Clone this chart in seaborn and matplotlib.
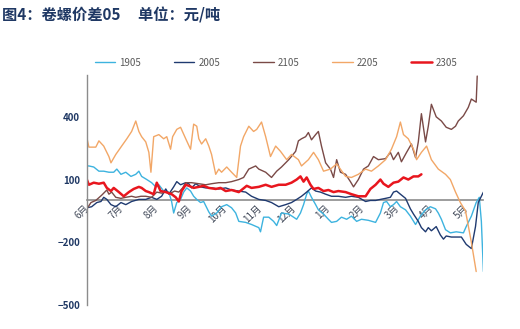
import matplotlib
matplotlib.use("Agg")
import matplotlib.pyplot as plt
import matplotlib.transforms as mtransforms
from matplotlib.lines import Line2D
import seaborn as sns
import pandas as pd

# x = months elapsed since the start of June (contract year runs June -> May)
month_labels = ["6月", "7月", "8月", "9月", "10月", "11月", "12月", "1月", "2月", "3月", "4月", "5月"]

t_1905 = [0, 0.06, 0.20, 0.35, 0.49, 0.64, 0.78, 0.87, 0.99, 1.13, 1.28, 1.42, 1.51, 1.59, 1.74, 1.88,
          2.0, 2.09, 2.23, 2.38, 2.46, 2.52, 2.61, 2.72, 2.81, 2.90, 3.01, 3.10, 3.19, 3.30, 3.39, 3.54,
          3.62, 3.77, 3.91, 4.06, 4.20, 4.32, 4.41, 4.61, 4.78, 4.99, 5.04, 5.13, 5.28, 5.42, 5.51, 5.65,
          5.86, 6.0, 6.09, 6.20, 6.29, 6.38, 6.43, 6.52, 6.64, 6.72, 6.87, 7.01, 7.10, 7.25, 7.39, 7.54,
          7.68, 7.83, 7.97, 8.17, 8.38, 8.52, 8.61, 8.70, 8.81, 8.90, 8.99, 9.10, 9.25, 9.39, 9.54, 9.68,
          9.83, 9.97, 10.12, 10.20, 10.29, 10.41, 10.55, 10.72, 10.93, 11.01, 11.16, 11.30, 11.39, 11.45, 11.51]
v_1905 = [165, 165, 160, 140, 140, 135, 135, 150, 125, 135, 115, 125, 140, 115, 100, 85,
          65, 75, 45, 40, -5, -60, -10, 5, 40, 60, 45, 20, 5, -10, -5, -55,
          -75, -60, -30, -20, -35, -60, -100, -105, -115, -130, -150, -80, -80, -100, -120, -60,
          -65, -80, -90, -60, -20, 30, 45, 15, -20, -45, -65, -90, -105, -100, -80, -90,
          -75, -100, -90, -95, -105, -60, -10, -5, -30, -20, -5, -30, -45, -75, -115, -75,
          -45, -30, -40, -60, -90, -140, -155, -150, -155, -125, -75, -10, 15, -100, -340]

t_2005 = [0, 0.14, 0.29, 0.41, 0.49, 0.58, 0.70, 0.84, 0.99, 1.13, 1.30, 1.51, 1.71, 1.88, 2.03, 2.17,
          2.29, 2.38, 2.52, 2.61, 2.72, 2.87, 2.96, 3.04, 3.16, 3.30, 3.45, 3.62, 3.83, 4.03, 4.20, 4.41,
          4.61, 4.78, 4.99, 5.19, 5.36, 5.57, 5.77, 5.94, 6.09, 6.23, 6.38, 6.52, 6.64, 6.78, 6.93, 7.10,
          7.30, 7.51, 7.68, 7.88, 8.09, 8.23, 8.38, 8.52, 8.67, 8.81, 8.90, 8.99, 9.10, 9.25, 9.39, 9.48,
          9.62, 9.71, 9.83, 9.91, 10.0, 10.14, 10.26, 10.35, 10.43, 10.58, 10.72, 10.87, 11.01, 11.16,
          11.28, 11.36, 11.45, 11.51]
v_2005 = [-35, -30, -10, -5, 15, 5, -20, -30, -10, -20, -5, 5, 5, 15, 5, 20,
          55, 30, 65, 90, 75, 85, 80, 60, 80, 65, 60, 60, 55, 60, 50, 45,
          40, 20, 5, 0, -10, -30, -20, -10, 5, 20, 40, 60, 45, 40, 30, 20,
          20, 15, 20, 15, -5, 0, 0, 5, 10, 15, 40, 45, 30, 10, -40, -65,
          -100, -130, -150, -130, -145, -125, -165, -185, -170, -175, -175, -175, -210, -230,
          -125, -10, 20, 40]

t_2105 = [0, 0.12, 0.26, 0.43, 0.58, 0.64, 0.72, 0.84, 0.99, 1.13, 1.30, 1.42, 1.57, 1.71, 1.88, 2.03,
          2.17, 2.29, 2.43, 2.55, 2.67, 2.78, 2.87, 3.04, 3.25, 3.45, 3.62, 3.83, 4.03, 4.20, 4.41, 4.55,
          4.70, 4.90, 4.99, 5.19, 5.36, 5.51, 5.65, 5.86, 6.06, 6.14, 6.23, 6.35, 6.43, 6.52, 6.64, 6.72,
          6.81, 6.93, 7.07, 7.16, 7.25, 7.36, 7.51, 7.65, 7.74, 7.88, 8.03, 8.17, 8.32, 8.46, 8.67, 8.81,
          8.90, 9.04, 9.13, 9.28, 9.42, 9.54, 9.62, 9.71, 9.83, 9.91, 10.0, 10.14, 10.29, 10.43, 10.58,
          10.70, 10.78, 10.93, 11.07, 11.16, 11.30, 11.33]
v_2105 = [-40, -10, 0, 25, 50, 30, 40, 15, 10, 15, 20, 15, 20, 20, 15, 40,
          35, 40, 35, 45, 40, 60, 85, 85, 80, 75, 80, 85, 85, 90, 100, 110,
          150, 165, 150, 135, 110, 140, 160, 195, 235, 285, 295, 305, 325, 290, 315, 330,
          260, 180, 150, 110, 195, 135, 125, 90, 65, 100, 150, 165, 210, 195, 200, 230,
          195, 230, 185, 230, 270, 205, 280, 415, 280, 355, 460, 400, 380, 350, 340,
          355, 380, 405, 445, 485, 470, 595]

t_2205 = [0, 0.06, 0.26, 0.35, 0.49, 0.64, 0.70, 0.84, 1.01, 1.16, 1.30, 1.42, 1.51, 1.59, 1.71, 1.80,
          1.86, 1.94, 2.09, 2.23, 2.32, 2.43, 2.49, 2.61, 2.72, 2.87, 3.01, 3.10, 3.19, 3.25, 3.33, 3.45,
          3.54, 3.62, 3.74, 3.83, 3.91, 4.06, 4.20, 4.35, 4.46, 4.55, 4.70, 4.84, 4.93, 5.07, 5.19, 5.33,
          5.48, 5.62, 5.80, 5.94, 6.14, 6.23, 6.43, 6.58, 6.72, 6.87, 7.07, 7.25, 7.51, 7.68, 7.88, 8.09,
          8.26, 8.46, 8.67, 8.84, 8.99, 9.10, 9.19, 9.33, 9.48, 9.57, 9.71, 9.86, 10.0, 10.20, 10.41,
          10.55, 10.70, 10.84, 10.99, 11.16, 11.30]
v_2205 = [300, 255, 255, 285, 260, 210, 180, 220, 260, 295, 330, 380, 330, 305, 280, 230,
          135, 305, 315, 295, 305, 245, 305, 340, 350, 295, 245, 365, 355, 295, 270, 295,
          260, 220, 125, 150, 135, 160, 135, 110, 260, 305, 355, 330, 340, 375, 305, 210,
          260, 235, 195, 220, 195, 165, 195, 230, 195, 140, 150, 175, 115, 110, 125, 150,
          140, 165, 195, 245, 305, 375, 315, 295, 245, 195, 230, 260, 195, 150, 125,
          100, 40, -10, -50, -200, -340]

t_2305 = [0, 0.06, 0.20, 0.35, 0.49, 0.58, 0.70, 0.78, 0.93, 1.07, 1.22, 1.36, 1.51, 1.59, 1.71, 1.80,
          1.94, 2.03, 2.14, 2.29, 2.46, 2.58, 2.67, 2.75, 2.87, 2.96, 3.10, 3.25, 3.39, 3.54, 3.74, 3.88,
          4.03, 4.20, 4.41, 4.49, 4.64, 4.78, 4.99, 5.19, 5.36, 5.57, 5.77, 5.94, 6.09, 6.20, 6.29, 6.38,
          6.49, 6.58, 6.72, 6.87, 7.01, 7.16, 7.30, 7.51, 7.68, 7.88, 8.09, 8.23, 8.38, 8.52, 8.61, 8.75,
          8.90, 9.04, 9.19, 9.33, 9.48, 9.62, 9.71]
v_2305 = [100, 75, 85, 80, 85, 60, 45, 60, 40, 20, 40, 55, 65, 60, 45, 40,
          30, 85, 45, 40, 30, 15, -5, 45, 75, 70, 60, 65, 70, 60, 55, 60,
          45, 50, 40, 50, 70, 60, 65, 75, 65, 75, 75, 85, 100, 115, 90, 110,
          75, 55, 60, 45, 50, 40, 45, 40, 30, 20, 20, 55, 75, 100, 80, 65,
          85, 90, 110, 100, 115, 115, 125]

series_names = ["1905", "2005", "2105", "2205", "2305"]
series_t = [t_1905, t_2005, t_2105, t_2205, t_2305]
series_v = [v_1905, v_2005, v_2105, v_2205, v_2305]
colors = ["#3DB3DF", "#1F3A70", "#7A4A47", "#F2A767", "#E8161E"]
widths = [1.0, 1.0, 1.0, 1.0, 1.8]

sns.set_style("white")
plt.rcParams["font.family"] = ["Noto Sans CJK SC", "DejaVu Sans"]

fig = plt.figure(figsize=(5.2, 3.29), dpi=100)
ax = fig.add_axes([0.167, 0.073, 0.762, 0.699])

for name, t, v, c, w in zip(series_names, series_t, series_v, colors, widths):
    df = pd.DataFrame({"month": t, "value": v})
    sns.lineplot(data=df, x="month", y="value", ax=ax, color=c, linewidth=w,
                 sort=False, estimator=None, legend=False)

ax.set_xlim(0, 11.5)
ax.set_ylim(-500, 600)
ax.set_xlabel("")
ax.set_ylabel("")

for side in ["top", "right"]:
    ax.spines[side].set_visible(False)
ax.spines["bottom"].set_position(("data", 0))
ax.spines["bottom"].set_color("#8C8C8C")
ax.spines["bottom"].set_linewidth(1.2)
ax.spines["bottom"].set_zorder(1)
ax.spines["left"].set_color("#8C8C8C")
ax.spines["left"].set_linewidth(1.0)

ax.tick_params(axis="y", direction="out", length=3, width=0.8, color="#8C8C8C",
               labelsize=7, labelcolor="#1F3864", pad=2)
ax.tick_params(axis="x", direction="in", length=3, width=0.8, color="#8C8C8C", pad=1,
               labelsize=7, labelcolor="#404858")

ax.set_yticks([-500, -200, 100, 400])
ax.set_xticks(range(len(month_labels)))
ax.set_xticklabels(month_labels)
# nudge the slanted month labels so they sit just under each tick
shift = mtransforms.ScaledTranslation(4 / 100, -1 / 100, fig.dpi_scale_trans)
for lbl in ax.get_xticklabels():
    lbl.set_rotation(45)
    lbl.set_ha("right")
    lbl.set_va("top")
    lbl.set_transform(lbl.get_transform() + shift)
for lbl in ax.get_yticklabels():
    lbl.set_fontweight("bold")

handles = [Line2D([], [], color=c, linewidth=w) for c, w in zip(colors, widths)]
fig.legend(handles, series_names, loc="center", bbox_to_anchor=(0.531, 0.809), ncol=5,
           frameon=False, fontsize=7, handlelength=2.1, handletextpad=0.4,
           columnspacing=3.4, labelcolor="#595959")

fig.text(0.004, 0.953, "图4：卷螺价差05     单位：元/吨", fontsize=11, fontweight="bold",
         color="#1F3864", ha="left", va="center")

fig.savefig("out.png", dpi=100)
